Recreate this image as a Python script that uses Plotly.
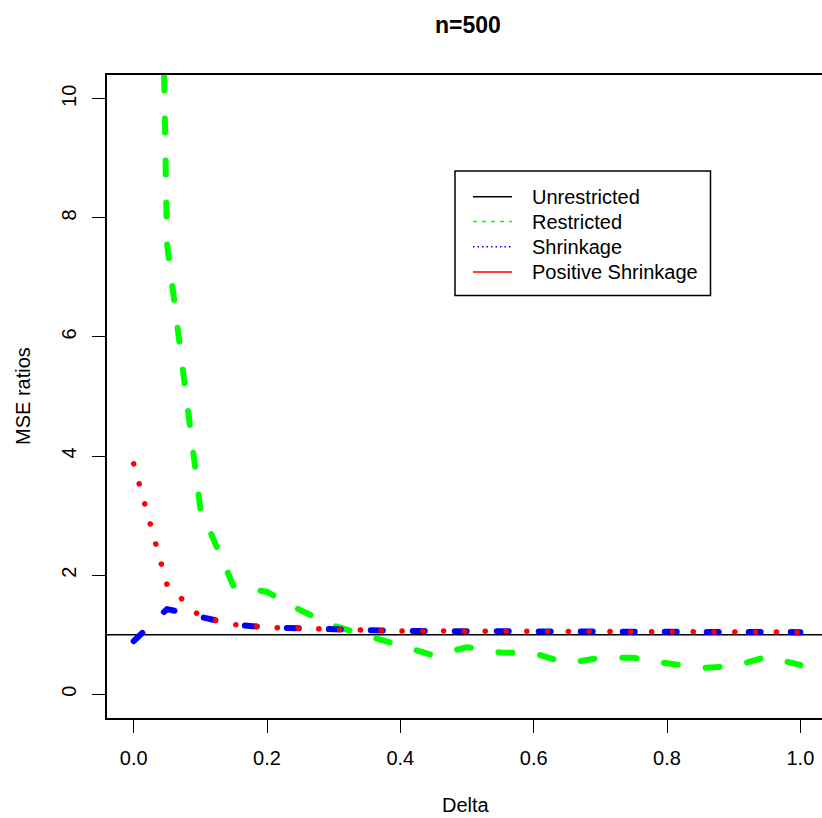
import plotly.graph_objects as go

# Simulation results: MSE ratios of the estimators against Delta (n=500)
delta = [0.00, 0.05, 0.10, 0.15, 0.20, 0.25, 0.30, 0.35, 0.40, 0.45, 0.50,
         0.55, 0.60, 0.65, 0.70, 0.75, 0.80, 0.85, 0.90, 0.95, 1.00]
unrestricted = 1.0
restricted = [40.0, 7.57, 3.12, 1.81, 1.72, 1.41, 1.15, 0.98, 0.80, 0.65, 0.79,
              0.70, 0.69, 0.52, 0.61, 0.61, 0.52, 0.44, 0.47, 0.63, 0.49]
shrinkage = [0.89, 1.43, 1.30, 1.17, 1.12, 1.10, 1.085, 1.07, 1.062, 1.06, 1.058,
             1.055, 1.053, 1.05, 1.05, 1.048, 1.046, 1.045, 1.044, 1.043, 1.042]
positive_shrinkage = [3.87, 1.84, 1.30, 1.17, 1.12, 1.10, 1.085, 1.07, 1.062, 1.06, 1.058,
                      1.055, 1.053, 1.05, 1.05, 1.048, 1.046, 1.045, 1.044, 1.043, 1.042]

x_ticks = [0.0, 0.2, 0.4, 0.6, 0.8, 1.0]
x_tick_text = ["0.0", "0.2", "0.4", "0.6", "0.8", "1.0"]
y_ticks = [0, 2, 4, 6, 8, 10]
y_tick_text = ["0", "2", "4", "6", "8", "10"]

legend_names = ["Unrestricted", "Restricted", "Shrinkage", "Positive Shrinkage"]
legend_colors = ["black", "#00ff00", "#0000ff", "#ff0000"]
legend_dash = ["solid", "4px,5px", "1.5px,3px", "solid"]

W, H = 822, 818
L, R, T, B = 107, 0, 75, 100
FONT = "Liberation Sans, Arial, Helvetica, sans-serif"


def px_x(p):
    return (p - L) / (W - L - R)


def px_y(p):
    return (H - B - p) / (H - T - B)


fig = go.Figure()

fig.add_trace(go.Scatter(
    x=delta, y=restricted, mode="lines", name="Restricted", showlegend=False,
    line=dict(color="#00ff00", width=6, dash="14px,28px")))
fig.add_trace(go.Scatter(
    x=delta, y=shrinkage, mode="lines", name="Shrinkage", showlegend=False,
    line=dict(color="#0000ff", width=6, dash="12px,30px")))
fig.add_trace(go.Scatter(
    x=delta, y=positive_shrinkage, mode="lines", name="Positive Shrinkage", showlegend=False,
    line=dict(color="#ff0000", width=5.5, dash="0.1px,20.7px")))

shapes = [
    # reference line for the unrestricted estimator, across the whole panel
    dict(type="line", xref="paper", yref="y", x0=0, x1=1, y0=unrestricted, y1=unrestricted,
         line=dict(color="black", width=1.5), layer="below"),
    # legend box
    dict(type="rect", xref="paper", yref="paper",
         x0=px_x(455), x1=px_x(710.5), y0=px_y(295.5), y1=px_y(171),
         line=dict(color="black", width=1.5), fillcolor="white", layer="above"),
]
annotations = []
rows = [196.7, 221.5, 246.7, 272.0]
for name, col, dash, ry in zip(legend_names, legend_colors, legend_dash, rows):
    shapes.append(dict(type="line", xref="paper", yref="paper",
                       x0=px_x(473), x1=px_x(512), y0=px_y(ry), y1=px_y(ry),
                       line=dict(color=col, width=1.5, dash=dash), layer="above"))
    annotations.append(dict(text=name, xref="paper", yref="paper",
                            x=px_x(530), y=px_y(ry), xanchor="left", yanchor="middle",
                            showarrow=False, font=dict(size=20, color="black", family=FONT)))

# axis titles and main title
annotations.append(dict(text="Delta", xref="paper", yref="paper",
                        x=px_x(466), y=px_y(805), xanchor="center", yanchor="middle",
                        showarrow=False, font=dict(size=20, color="black", family=FONT)))
annotations.append(dict(text="MSE ratios", xref="paper", yref="paper",
                        x=px_x(23), y=px_y(396), xanchor="center", yanchor="middle",
                        textangle=-90, showarrow=False,
                        font=dict(size=20, color="black", family=FONT)))
annotations.append(dict(text="<b>n=500</b>", xref="paper", yref="paper",
                        x=px_x(468), y=px_y(25), xanchor="center", yanchor="middle",
                        showarrow=False, font=dict(size=23, color="black", family=FONT)))

fig.update_layout(
    width=W, height=H,
    margin=dict(l=L, r=R, t=T, b=B, pad=0),
    paper_bgcolor="white", plot_bgcolor="white",
    font=dict(family=FONT, size=20, color="black"),
    showlegend=False,
    shapes=shapes,
    annotations=annotations,
    xaxis=dict(range=[-0.04, -0.04 + (W - L - R) / 666.7], tickvals=x_ticks, ticktext=x_tick_text,
               showgrid=False, zeroline=False, showline=True, mirror=True,
               linecolor="black", linewidth=1.5, ticks="outside", ticklen=13,
               tickwidth=1.3, tickcolor="black", tickfont=dict(size=20, family=FONT),
               ticklabelstandoff=8),
    yaxis=dict(range=[-0.4, 10.4], tickvals=y_ticks, ticktext=y_tick_text,
               showgrid=False, zeroline=False, showline=True, mirror=False,
               linecolor="black", linewidth=1.5, ticks="outside", ticklen=13,
               tickwidth=1.3, tickcolor="black", tickangle=-90,
               tickfont=dict(size=20, family=FONT), ticklabelstandoff=8),
)

round_caps = """
var gd = document.getElementById('{plot_id}');
gd.querySelectorAll('.scatterlayer .js-line').forEach(function (p) {
  p.style.strokeLinecap = 'round';
  p.style.strokeLinejoin = 'round';
});
"""

fig.write_html("out.html", post_script=round_caps)
